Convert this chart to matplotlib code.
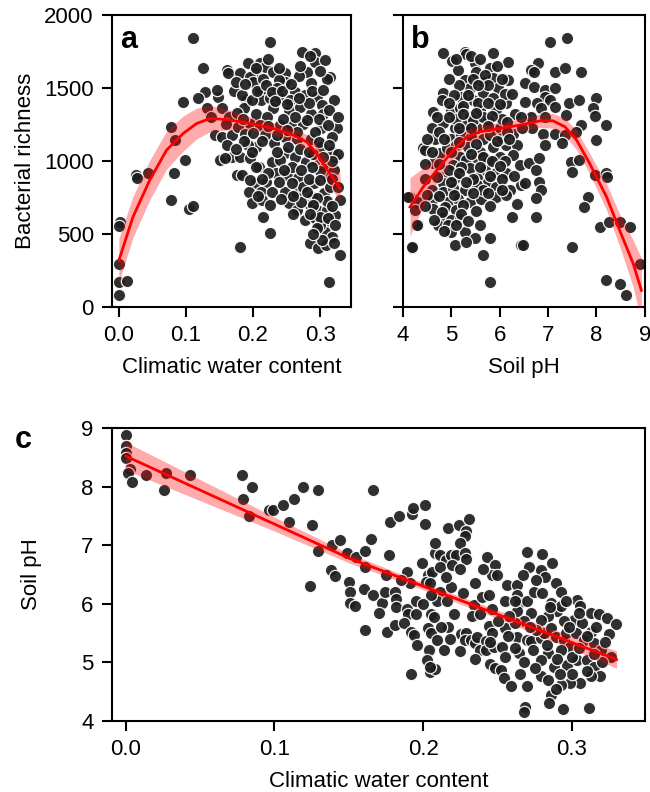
import matplotlib
matplotlib.use("Agg")
import matplotlib.pyplot as plt

plt.rcParams['font.family'] = ['Liberation Sans', 'DejaVu Sans']

# ---------------- Panel a: water content vs richness ----------------
a_water = [0.110, 0.125, 0.161, 0.163, 0.095, 0.128, 0.118, 0.148, 0.147, 0.131,
           0.138, 0.154, 0.164, 0.159, 0.143, 0.154, 0.168, 0.161, 0.168, 0.151,
           0.158, 0.077, 0.084, 0.0985, 0.082, 0.043, 0.025, 0.027, 0.078, 0.105,
           0.110, 0.001, 0.000, 0.000, 0.000, 0.0115, 0.000, 0.176, 0.181,
           0.225, 0.273, 0.293, 0.293, 0.307, 0.315, 0.310, 0.280, 0.286, 0.193,
           0.210, 0.218, 0.230, 0.248, 0.248, 0.238, 0.263, 0.203, 0.181, 0.196,
           0.210, 0.212, 0.190, 0.225, 0.240, 0.278, 0.295, 0.303, 0.230, 0.253,
           0.270, 0.286, 0.304, 0.325, 0.186, 0.205, 0.221, 0.195, 0.210, 0.240,
           0.257, 0.275, 0.302, 0.178, 0.188, 0.204, 0.231, 0.248, 0.266, 0.286,
           0.302, 0.317, 0.322, 0.181, 0.196, 0.209, 0.229, 0.248, 0.262, 0.279,
           0.294, 0.307, 0.321, 0.184, 0.204, 0.220, 0.234, 0.251, 0.267, 0.291,
           0.311, 0.194, 0.212, 0.228, 0.248, 0.265, 0.288, 0.306, 0.330, 0.199,
           0.213, 0.253, 0.266, 0.285, 0.295, 0.310, 0.215, 0.278, 0.293, 0.307,
           0.307, 0.225, 0.285, 0.297, 0.309, 0.317, 0.330, 0.313,
           0.172, 0.175, 0.183, 0.200, 0.215, 0.235, 0.255, 0.262, 0.283, 0.298,
           0.312, 0.318, 0.300, 0.315, 0.322, 0.300, 0.275, 0.258, 0.240, 0.218,
           0.200, 0.192, 0.245, 0.268, 0.300, 0.320, 0.290, 0.272, 0.238, 0.205,
           0.176, 0.185, 0.198, 0.206, 0.219, 0.228, 0.243, 0.257, 0.268, 0.288,
           0.305, 0.313, 0.327, 0.292, 0.280, 0.265, 0.250, 0.235, 0.222, 0.213,
           0.198, 0.186, 0.174, 0.236, 0.252, 0.270, 0.284, 0.298, 0.313, 0.326,
           0.318, 0.304, 0.288, 0.272, 0.246, 0.222, 0.195, 0.213, 0.258, 0.283,
           0.300, 0.318, 0.326, 0.310, 0.296, 0.280, 0.260, 0.241, 0.225, 0.207,
           0.290, 0.318, 0.300, 0.285, 0.260, 0.312, 0.296, 0.322, 0.303, 0.320,
           0.290, 0.250, 0.232, 0.188, 0.270, 0.285, 0.238, 0.222, 0.205]
a_rich = [1840, 1635, 1623, 1600, 1406, 1475, 1429, 1440, 1490, 1361,
          1303, 1361, 1303, 1257, 1178, 1165, 1178, 1110, 1031, 1007,
          1020, 1235, 1144, 1007, 922, 920, 904, 885, 733, 676,
          692, 584, 555, 299, 173, 180, 82, 904, 413,
          1813, 1749, 1738, 1680, 1692, 1577, 1565, 1612, 1532, 1669,
          1669, 1646, 1612, 1600, 1543, 1555, 1475, 1612, 1600, 1578,
          1475, 1418, 1418, 1430, 1430, 1452, 1440, 1384, 1361, 1349,
          1372, 1326, 1326, 1224, 1361, 1326, 1303, 1257, 1246, 1246,
          1246, 1257, 1224, 1235, 1189, 1098, 1121, 1166, 1155, 1155,
          1098, 1166, 1031, 1031, 1020, 963, 997, 1054, 1031, 997,
          1008, 963, 940, 906, 849, 860, 917, 906, 883, 849,
          883, 792, 792, 792, 792, 780, 757, 780, 733, 712,
          735, 712, 666, 700, 666, 666, 621, 598, 610, 575,
          518, 511, 438, 404, 427, 484, 356, 173,
          1480, 1540, 1450, 1540, 1560, 1500, 1420, 1300, 1400, 1290,
          1250, 1060, 930, 820, 630, 560, 820, 960, 1010, 1180,
          1190, 1110, 1290, 1580, 1620, 1420, 1050, 720, 860, 960,
          1330, 1290, 1420, 1480, 1520, 1470, 1480, 1530, 1430, 1480,
          1490, 1350, 1300, 1200, 1280, 1200, 1210, 1180, 1240, 1140,
          1060, 1140, 1080, 1060, 1100, 1080, 1060, 1130, 1110, 1050,
          1000, 1030, 960, 940, 940, 920, 870, 880, 850, 880,
          870, 880, 820, 730, 750, 790, 760, 740, 700, 760,
          700, 690, 620, 640, 640, 610, 540, 560, 460, 440,
          500, 1390, 1410, 1530, 1650, 1720, 1640, 1700, 1640]
# smooth fit
a_fit_x = [0.0, 0.021, 0.046, 0.071, 0.096, 0.116, 0.136, 0.161, 0.1955, 0.23,
           0.26, 0.28, 0.295, 0.3125, 0.33]
a_fit_y = [320, 618, 870, 1075, 1190, 1258, 1292, 1285, 1258, 1224,
           1178, 1132, 1052, 927, 813]
a_fit_half = [150, 140, 135, 130, 120, 105, 90, 70, 45, 40, 45, 50, 60, 75, 95]

# ---------------- Panel b: soil pH vs richness ----------------
b_ph = [4.83, 5.01, 5.28, 5.30, 5.87, 6.18, 5.14, 5.48, 5.50, 5.80,
        5.28, 5.38, 5.66, 5.86, 5.96, 6.17, 5.66, 5.45, 4.83, 4.80,
        5.20, 5.87, 6.14, 4.63, 5.00, 5.18, 5.38, 5.59, 5.76, 5.93,
        6.31, 4.83, 5.07, 5.31, 4.59, 5.52, 6.00, 6.28, 4.66, 5.00,
        5.20, 5.41, 5.66, 5.87, 6.14, 6.35, 4.42, 4.76, 4.90, 5.17,
        5.31, 5.52, 5.76, 6.00, 6.28, 4.62, 5.03, 5.38, 5.69, 5.93,
        6.14, 6.42, 4.83, 5.07, 5.52, 5.76, 4.83, 4.59, 4.83, 5.03,
        5.28, 5.52, 5.93, 6.21, 6.45, 4.14, 4.32, 4.62, 4.93, 5.14,
        5.38, 5.62, 5.93, 6.14, 6.35, 4.62, 4.87, 5.10, 5.25, 4.25,
        4.32, 4.83, 5.00, 5.17, 4.73, 4.93, 5.00, 5.28, 5.48, 5.79,
        5.07, 5.31, 4.18, 5.66, 5.80, 6.45,
        7.05, 7.40, 6.80, 6.64, 6.70, 7.14, 7.35, 7.69, 6.53, 6.71,
        6.93, 7.14, 6.93, 7.03, 6.53, 6.78, 7.43, 7.64, 8.00, 7.93,
        7.96, 6.86, 7.14, 6.64, 6.93, 7.38, 6.67, 6.46, 7.69, 8.20,
        6.90, 7.14, 7.35, 7.57, 6.93, 7.28, 8.00, 6.60, 6.81, 6.74,
        7.47, 7.64, 7.50, 6.53, 6.81, 6.85, 6.74, 7.96, 8.20, 8.22,
        7.83, 7.74, 6.74, 8.07, 8.27, 8.48, 8.69, 6.49, 7.50, 8.90,
        8.19, 8.48, 8.61, 4.11, 4.18, 4.28, 4.45,
        5.45, 5.70, 5.55, 5.25, 5.10, 5.45, 5.65, 6.05, 5.35, 5.60,
        5.10, 5.80, 6.05, 5.45, 5.20, 5.65, 4.95, 6.10,
        5.10, 5.40, 5.60, 5.95, 6.05, 5.75, 5.55, 5.15, 4.95, 5.05,
        5.35, 5.75, 6.00, 6.25, 4.95, 4.70, 4.95, 5.25, 5.50, 5.85,
        6.15, 6.45, 4.75, 5.15, 5.40, 5.75, 6.15, 4.50, 4.85, 5.15,
        5.50, 5.95, 6.20, 4.60, 5.00, 5.40, 5.65, 5.85, 6.10, 4.45,
        4.75, 5.15, 5.60, 6.00, 6.30, 4.45, 4.70, 5.00, 5.30, 5.80,
        6.05, 4.50, 4.75, 5.05, 5.45, 5.75, 6.05, 4.45, 4.80, 5.20,
        5.50, 5.80, 4.65, 5.35, 5.10, 4.85, 5.60, 6.25]
b_rich = [1742, 1687, 1749, 1735, 1738, 1680, 1623, 1669, 1612, 1635,
          1555, 1498, 1543, 1566, 1498, 1555, 1464, 1418, 1464, 1418,
          1441, 1430, 1395, 1338, 1349, 1361, 1303, 1349, 1281, 1349,
          1326, 1258, 1224, 1247, 1224, 1224, 1224, 1189, 1155, 1155,
          1178, 1166, 1155, 1098, 1110, 1110, 1087, 1053, 1087, 1030,
          1008, 1020, 1008, 1030, 1042, 985, 974, 951, 940, 917,
          917, 974, 894, 883, 883, 860, 848, 803, 792, 815,
          803, 837, 826, 803, 837, 755, 721, 744, 721, 744,
          721, 744, 755, 767, 710, 676, 687, 664, 700, 664,
          562, 619, 596, 607, 562, 562, 516, 516, 471, 471,
          425, 447, 409, 360, 173, 425,
          1813, 1840, 1669, 1623, 1610, 1612, 1635, 1612, 1532, 1509,
          1486, 1498, 1441, 1418, 1407, 1395, 1395, 1418, 1429, 1361,
          1311, 1361, 1372, 1303, 1303, 1315, 1224, 1224, 1246, 1246,
          1189, 1189, 1178, 1201, 1110, 1121, 1144, 985, 1019, 940,
          996, 1008, 929, 849, 860, 803, 747, 906, 917, 890,
          758, 689, 621, 550, 584, 584, 550, 427, 415, 299,
          185, 162, 82, 755, 413, 562, 1075,
          1560, 1590, 1400, 1380, 1290, 1280, 1300, 1290, 1100, 1060,
          1110, 1180, 1160, 880, 960, 800, 940, 1460,
          1700, 1720, 1700, 1650, 1560, 1520, 1520, 1520, 1560, 1450,
          1450, 1400, 1390, 1460, 1400, 1300, 1300, 1320, 1330, 1310,
          1270, 1300, 1200, 1230, 1230, 1240, 1200, 1150, 1150, 1130,
          1120, 1140, 1150, 1060, 1060, 1050, 1030, 1000, 1000, 980,
          980, 920, 960, 970, 900, 880, 890, 860, 860, 900,
          880, 770, 760, 770, 780, 780, 800, 690, 650, 640,
          660, 690, 600, 590, 560, 520, 560, 620]
b_fit_x = [4.145, 4.42, 4.70, 5.04, 5.32, 5.59, 6.00, 6.42, 6.83, 7.105,
           7.35, 7.59, 7.86, 8.21, 8.48, 8.76, 8.93]
b_fit_y = [687, 824, 938, 1075, 1166, 1201, 1224, 1247, 1276, 1276,
           1235, 1144, 984, 755, 527, 299, 116]
b_fit_half = [200, 130, 90, 60, 50, 45, 40, 40, 45, 50,
              60, 65, 70, 90, 110, 160, 220]

# ---------------- Panel c: water content vs soil pH ----------------
c_water = [0.0, 0.0, 0.0, 0.0, 0.0027, 0.0017, 0.004, 0.0135, 0.027, 0.026,
           0.0435, 0.078, 0.085, 0.079, 0.083, 0.096, 0.099, 0.1055, 0.113, 0.1195,
           0.129, 0.110, 0.125, 0.129, 0.124, 0.1385, 0.144, 0.1486, 0.155, 0.161,
           0.165, 0.161, 0.166, 0.138, 0.141, 0.150, 0.151, 0.151, 0.154, 0.160,
           0.166, 0.172, 0.161, 0.1767, 0.178, 0.184, 0.1923, 0.193, 0.201, 0.201,
           0.189, 0.191, 0.174, 0.181, 0.182, 0.182, 0.189, 0.195, 0.190, 0.195,
           0.1755, 0.181, 0.187, 0.192, 0.194, 0.192, 0.2047, 0.208, 0.199, 0.203,
           0.202, 0.206, 0.208, 0.2115, 0.2155, 0.219, 0.208, 0.217, 0.224, 0.2305,
           0.229, 0.228, 0.225, 0.222, 0.228, 0.229, 0.2115, 0.2195, 0.2045, 0.211,
           0.2185, 0.2095, 0.216, 0.2266, 0.2205, 0.2055, 0.2075, 0.203, 0.2055, 0.209,
           0.2036, 0.2137, 0.2168, 0.2025, 0.2047, 0.234, 0.233, 0.2255, 0.229, 0.228,
           0.232, 0.2345, 0.2365, 0.238, 0.242, 0.242, 0.243, 0.248, 0.246, 0.2495,
           0.2395, 0.244, 0.2385, 0.2465, 0.244, 0.2465, 0.2475, 0.253, 0.245, 0.248,
           0.252, 0.254, 0.255, 0.2563, 0.263, 0.263, 0.2645, 0.263, 0.270, 0.2745,
           0.2802, 0.2698, 0.271, 0.279, 0.282, 0.2865, 0.289, 0.2924, 0.286, 0.290,
           0.2924, 0.2837, 0.279, 0.2725, 0.268, 0.262, 0.263, 0.270, 0.2725, 0.2647,
           0.2737, 0.2792, 0.2815, 0.286, 0.2893, 0.295, 0.296, 0.3035, 0.3057, 0.3125,
           0.318, 0.3237, 0.3293, 0.325, 0.3013, 0.307, 0.313, 0.303, 0.308, 0.3148,
           0.3193, 0.299, 0.2925, 0.2837, 0.279, 0.288, 0.297, 0.3035, 0.3103, 0.3148,
           0.319, 0.3125, 0.3057, 0.299, 0.2925, 0.286, 0.2848, 0.2793, 0.270, 0.2687,
           0.2676, 0.294, 0.3113, 0.259,
           0.205, 0.215, 0.225, 0.235, 0.240, 0.255, 0.258, 0.250, 0.257, 0.262,
           0.268, 0.275, 0.283, 0.290, 0.300, 0.305, 0.310, 0.316, 0.322, 0.326,
           0.320, 0.310, 0.300, 0.292, 0.284, 0.276, 0.285, 0.295, 0.305, 0.296,
           0.276, 0.267, 0.280, 0.262, 0.245, 0.235, 0.225, 0.218, 0.212, 0.196,
           0.200, 0.185, 0.175, 0.170, 0.315, 0.298, 0.272, 0.255, 0.265, 0.289]
c_ph = [8.88, 8.69, 8.57, 8.48, 8.30, 8.23, 8.08, 8.20, 8.23, 7.94,
        8.19, 8.20, 8.00, 7.79, 7.50, 7.60, 7.60, 7.69, 7.79, 7.99,
        7.94, 7.40, 7.34, 6.90, 6.30, 7.00, 7.09, 6.87, 6.80, 6.90,
        7.10, 6.62, 7.94, 6.57, 6.47, 6.37, 6.20, 6.01, 5.96, 6.25,
        6.15, 6.01, 5.55, 6.83, 7.40, 7.49, 7.54, 7.63, 7.69, 7.36,
        6.55, 6.35, 6.21, 6.21, 6.08, 5.94, 5.92, 6.04, 5.82, 5.82,
        5.52, 5.64, 5.68, 5.52, 5.46, 4.81, 4.84, 4.88, 6.69, 6.49,
        6.38, 6.55, 6.86, 6.83, 6.75, 6.83, 7.03, 7.29, 7.34, 7.44,
        7.25, 7.16, 7.03, 6.83, 6.86, 6.77, 6.63, 6.66, 6.35, 6.21,
        6.29, 6.04, 6.04, 6.18, 5.82, 5.82, 5.77, 5.58, 5.50, 5.39,
        5.21, 5.21, 5.61, 5.04, 4.93, 5.98, 5.79, 5.48, 5.50, 5.39,
        5.39, 5.33, 5.44, 5.21, 5.36, 5.21, 6.80, 6.66, 6.49, 6.49,
        6.12, 6.15, 5.82, 5.91, 5.62, 5.50, 5.27, 5.27, 4.98, 4.90,
        4.87, 4.73, 5.59, 6.32, 6.32, 6.15, 6.01, 5.87, 6.04, 6.21,
        6.18, 6.89, 6.63, 6.57, 6.46, 6.69, 6.35, 6.21, 6.01, 5.87,
        5.96, 5.79, 5.73, 5.84, 5.70, 5.67, 5.44, 5.39, 5.36, 5.16,
        5.21, 5.41, 5.50, 5.59, 5.44, 5.39, 5.50, 6.06, 5.96, 5.84,
        5.82, 5.76, 5.66, 5.48, 5.73, 5.67, 5.52, 5.50, 5.39, 5.33,
        5.21, 5.27, 5.21, 5.16, 5.04, 4.93, 4.96, 5.04, 5.04, 4.93,
        4.76, 4.76, 4.65, 4.65, 4.62, 4.45, 4.31, 4.76, 4.59, 4.24,
        4.15, 4.20, 4.22, 4.59,
        6.15, 6.45, 6.60, 6.35, 6.60, 6.05, 5.80, 5.70, 5.45, 5.25,
        5.00, 4.90, 5.30, 5.05, 5.10, 5.25, 5.45, 5.60, 5.35, 5.10,
        5.00, 4.85, 4.80, 4.80, 4.70, 5.55, 5.95, 5.70, 5.85, 6.05,
        6.40, 6.50, 6.85, 6.05, 5.35, 5.05, 5.20, 5.40, 5.60, 5.30,
        6.00, 6.40, 6.50, 5.85, 5.15, 5.60, 5.60, 5.10, 4.80, 4.55]
c_fit_x = [0.0, 0.05, 0.10, 0.15, 0.20, 0.25, 0.30, 0.33]
c_fit_y = [8.52, 7.94, 7.36, 6.78, 6.30, 5.82, 5.34, 5.05]
c_fit_half = [0.24, 0.18, 0.12, 0.08, 0.06, 0.07, 0.11, 0.15]

# ---------------- drawing ----------------
FS = 16
PT_COLOR = '#1e1e1e'
FIT_COLOR = '#ff0000'

fig = plt.figure(figsize=(6.5, 7.92), dpi=100)
ax_a = fig.add_axes([0.172, 0.612, 0.368, 0.369])
ax_b = fig.add_axes([0.620, 0.612, 0.372, 0.369])
ax_c = fig.add_axes([0.172, 0.0896, 0.820, 0.370])


def draw(ax, xs, ys, fx, fy, fh):
    ax.scatter(xs, ys, s=78, c=PT_COLOR, alpha=0.92, edgecolors='white',
               linewidths=0.9, zorder=2)
    lo = [y - h for y, h in zip(fy, fh)]
    hi = [y + h for y, h in zip(fy, fh)]
    ax.fill_between(fx, lo, hi, color=FIT_COLOR, alpha=0.33, linewidth=0, zorder=3)
    ax.plot(fx, fy, color=FIT_COLOR, lw=2.0, zorder=4)
    for sp in ax.spines.values():
        sp.set_linewidth(1.5)
    ax.tick_params(direction='out', length=7, width=1.5, labelsize=FS, pad=6)


draw(ax_a, a_water, a_rich, a_fit_x, a_fit_y, a_fit_half)
ax_a.set_xlim(-0.0105, 0.346)
ax_a.set_ylim(0, 2000)
ax_a.set_xticks([0.0, 0.1, 0.2, 0.3])
ax_a.set_xticklabels(['0.0', '0.1', '0.2', '0.3'])
ax_a.set_yticks([0, 500, 1000, 1500, 2000])
ax_a.set_xlabel('Climatic water content', fontsize=FS, labelpad=8)
ax_a.set_ylabel('Bacterial richness', fontsize=FS, labelpad=6)
ax_a.text(0.035, 0.965, 'a', transform=ax_a.transAxes, fontsize=22,
          fontweight='bold', va='top', ha='left')

draw(ax_b, b_ph, b_rich, b_fit_x, b_fit_y, b_fit_half)
ax_b.set_xlim(4, 9)
ax_b.set_ylim(0, 2000)
ax_b.set_xticks([4, 5, 6, 7, 8, 9])
ax_b.set_yticks([0, 500, 1000, 1500, 2000])
ax_b.set_yticklabels([])
ax_b.set_xlabel('Soil pH', fontsize=FS, labelpad=8)
ax_b.text(0.035, 0.965, 'b', transform=ax_b.transAxes, fontsize=22,
          fontweight='bold', va='top', ha='left')

draw(ax_c, c_water, c_ph, c_fit_x, c_fit_y, c_fit_half)
ax_c.set_xlim(-0.0094, 0.349)
ax_c.set_ylim(4, 9)
ax_c.set_xticks([0.0, 0.1, 0.2, 0.3])
ax_c.set_xticklabels(['0.0', '0.1', '0.2', '0.3'])
ax_c.set_yticks([4, 5, 6, 7, 8, 9])
ax_c.set_xlabel('Climatic water content', fontsize=FS, labelpad=8)
ax_c.set_ylabel('Soil pH', fontsize=FS, labelpad=28)
fig.text(0.022, 0.445, 'c', fontsize=22, fontweight='bold', va='center', ha='left')

fig.savefig('out.png', dpi=100)
